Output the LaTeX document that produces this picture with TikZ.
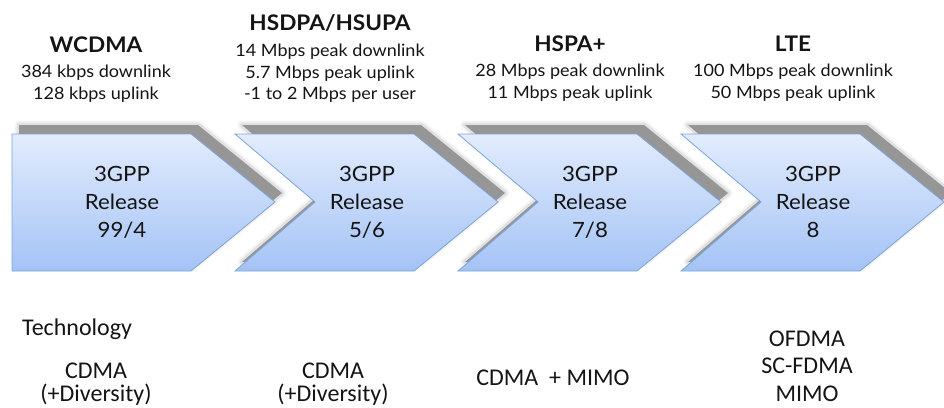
\documentclass[tikz,border=0pt]{standalone}
\usepackage{fontspec}
\setmainfont[FakeStretch=1.06]{Lato}
\newfontfamily\titlefont[FakeStretch=1.05]{Lato}
\newfontfamily\techfont{Carlito}
\definecolor{chevtop}{RGB}{226,236,253}
\definecolor{chevbot}{RGB}{164,195,246}
\definecolor{chevline}{RGB}{125,163,216}
\definecolor{shadowgray}{RGB}{150,150,150}
\definecolor{txt}{RGB}{20,20,20}
\newcommand\mychev[2]{%
  \begin{scope}[shift={(#1,0)}]
    \begin{scope}[shift={(7,-9)}]
      \draw[shadowgray, opacity=0.10, line width=9pt, line join=round] (0,134) -- (179,134) -- (263,202) -- (179,271) -- (0,271) -- (#2,202) -- cycle;
      \draw[shadowgray, opacity=0.20, line width=5pt, line join=round] (0,134) -- (179,134) -- (263,202) -- (179,271) -- (0,271) -- (#2,202) -- cycle;
      \fill[shadowgray] (0,134) -- (179,134) -- (263,202) -- (179,271) -- (0,271) -- (#2,202) -- cycle;
    \end{scope}
    \path[chevshape] (0,134) -- (179,134) -- (263,202) -- (179,271) -- (0,271) -- (#2,202) -- cycle;
  \end{scope}}
\begin{document}
\begin{tikzpicture}[x=1pt,y=-1pt,
  chevshape/.style={top color=chevtop, bottom color=chevbot, draw=chevline, line width=0.8pt},
  gentitle/.style={anchor=base, inner sep=0pt, text=txt, font=\titlefont\fontsize{21.5}{25}\selectfont\bfseries},
  genline/.style={anchor=base, inner sep=0pt, text=txt, font=\fontsize{17}{21}\selectfont},
  reltext/.style={anchor=base, inner sep=0pt, text=txt, font=\fontsize{21}{25}\selectfont},
  techtext/.style={anchor=base, inner sep=0pt, text=txt, font=\techfont\fontsize{24}{28}\selectfont}]
\useasboundingbox (0,0) rectangle (944,407);
\begin{scope}
\clip (0,0) rectangle (944,407);
\mychev{12}{0}
\mychev{235}{80}
\mychev{458}{80}
\mychev{681}{80}
\end{scope}
% generation headings
\node[gentitle] (g1) at (96,52) {WCDMA};
\node[genline] (g1a) at (96,77) {384 kbps downlink};
\node[genline] (g1b) at (96,99) {128 kbps uplink};
\node[gentitle] (g2) at (330,30) {HSDPA/HSUPA};
\node[genline] (g2a) at (330,56) {14 Mbps peak downlink};
\node[genline] (g2b) at (330,78) {5.7 Mbps peak uplink};
\node[genline] (g2c) at (330,99) {-1 to 2 Mbps per user};
\node[gentitle] (g3) at (570,51) {HSPA+};
\node[genline] (g3a) at (570,76) {28 Mbps peak downlink};
\node[genline] (g3b) at (570,98) {11 Mbps peak uplink};
\node[gentitle] (g4) at (793,51) {LTE};
\node[genline] (g4a) at (793,76) {100 Mbps peak downlink};
\node[genline] (g4b) at (793,98) {50 Mbps peak uplink};
% release labels
\node[reltext] (r1a) at (122,181) {3GPP};
\node[reltext] (r1b) at (122,209) {Release};
\node[reltext] (r1c) at (122,237) {99/4};
\node[reltext] (r2a) at (367,181) {3GPP};
\node[reltext] (r2b) at (367,209) {Release};
\node[reltext] (r2c) at (367,237) {5/6};
\node[reltext] (r3a) at (590,181) {3GPP};
\node[reltext] (r3b) at (590,209) {Release};
\node[reltext] (r3c) at (590,237) {7/8};
\node[reltext] (r4a) at (813,181) {3GPP};
\node[reltext] (r4b) at (813,209) {Release};
\node[reltext] (r4c) at (813,237) {8};
% technology
\node[techtext, anchor=base west] (tech) at (22,335) {Technology};
\node[techtext] (t1a) at (96,378) {CDMA};
\node[techtext] (t1b) at (96,401) {(+Diversity)};
\node[techtext] (t2a) at (333,378) {CDMA};
\node[techtext] (t2b) at (333,401) {(+Diversity)};
\node[techtext] (t3) at (553,385) {CDMA\ \ + MIMO};
\node[techtext] (t4a) at (807,346) {OFDMA};
\node[techtext] (t4b) at (807,373.5) {SC-FDMA};
\node[techtext] (t4c) at (807,401) {MIMO};
\end{tikzpicture}
\end{document}
